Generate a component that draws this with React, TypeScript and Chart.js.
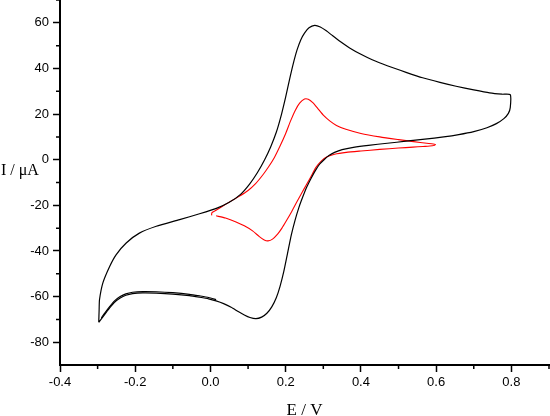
import React, { useEffect, useRef } from "react";
import { Chart, registerables } from "chart.js";

Chart.register(...registerables);

// Axis ticks
const X_MAJOR = [-0.4, -0.2, 0, 0.2, 0.4, 0.6, 0.8];
const X_MINOR = [-0.3, -0.1, 0.1, 0.3, 0.5, 0.7, 0.9];
const Y_MAJOR = [-80, -60, -40, -20, 0, 20, 40, 60];
const Y_MINOR = [-70, -50, -30, -10, 10, 30, 50, 70];
const X_TITLE = "E / V";
const Y_TITLE = "I / \u03bcA";

// Black CV (E in V, I in µA), traced in scan order
const BLACK_SCAN: [number, number][] = [
  [-0.297, -71.3], [-0.296, -66], [-0.295, -61.4], [-0.286, -54], [-0.268, -46.8],
  [-0.251, -41.7], [-0.224, -36.5], [-0.189, -32.2], [-0.144, -29.2], [-0.082, -26.3],
  [-0.029, -23.7], [0.019, -21.1], [0.05, -18.7], [0.08, -15.2], [0.104, -10.7],
  [0.125, -5.6], [0.144, 0], [0.16, 5.6], [0.175, 12], [0.189, 20], [0.2, 27.5],
  [0.21, 35], [0.22, 42], [0.23, 48], [0.24, 52.5], [0.25, 55.5], [0.262, 57.8],
  [0.277, 58.9], [0.292, 58.2], [0.308, 56.5], [0.325, 54.3], [0.345, 51.8], [0.37, 49],
  [0.4, 46.2], [0.43, 43.8], [0.47, 41.2], [0.52, 38.3], [0.564, 35.9], [0.61, 33.9],
  [0.653, 32.2], [0.7, 30.6], [0.742, 29.3], [0.775, 28.7], [0.797, 28.5],
  [0.797, 22.8], [0.792, 20.3], [0.78, 18], [0.76, 15.8], [0.735, 14], [0.7, 12.3],
  [0.66, 11], [0.62, 10], [0.57, 9], [0.52, 8.1], [0.47, 7.2], [0.42, 6.3], [0.38, 5.4],
  [0.35, 4.4], [0.33, 3.2], [0.315, 1.8], [0.302, 0], [0.29, -2], [0.278, -5],
  [0.268, -8], [0.256, -12], [0.245, -16.5], [0.235, -21], [0.225, -26.5], [0.215, -33],
  [0.205, -41], [0.195, -49], [0.185, -55.5], [0.175, -60.5], [0.163, -64.5],
  [0.15, -67.3], [0.136, -69], [0.121, -69.7], [0.105, -69.2], [0.09, -68.1],
  [0.075, -66.7], [0.055, -64.7], [0.035, -63.1], [0.015, -61.9], [-0.005, -61],
  [-0.029, -60.3], [-0.056, -59.6], [-0.1, -58.9], [-0.144, -58.5], [-0.18, -58.4],
  [-0.207, -58.7], [-0.225, -59.4], [-0.24, -60.6], [-0.255, -62.5], [-0.268, -65],
  [-0.28, -67.6], [-0.29, -69.8], [-0.297, -71.3],
];

// Second black cycle, visible as a thickened cathodic base line
const BLACK_CYCLE2: [number, number][] = [
  [-0.29, -69.3], [-0.28, -67], [-0.268, -64.4], [-0.255, -61.9], [-0.24, -60],
  [-0.225, -58.8], [-0.207, -58.1], [-0.18, -57.8], [-0.144, -57.9], [-0.1, -58.3],
  [-0.056, -59], [-0.029, -59.7], [-0.005, -60.4], [0.015, -61.4],
];

// Red CV (E in V, I in µA)
const RED_SCAN: [number, number][] = [
  [0.003, -24.4], [0.004, -23.2], [0.015, -22.2], [0.03, -20.6], [0.05, -18.6],
  [0.075, -16.2], [0.1, -13.5], [0.12, -10.5], [0.14, -6.5], [0.155, -3], [0.17, 1],
  [0.185, 6], [0.2, 11.5], [0.213, 17], [0.225, 21.5], [0.237, 24.8], [0.25, 26.6],
  [0.26, 26.5], [0.272, 25], [0.285, 22.5], [0.3, 19.5], [0.317, 17], [0.335, 15],
  [0.36, 13.3], [0.4, 11.5], [0.45, 10], [0.5, 8.8], [0.54, 7.9], [0.575, 7.2],
  [0.592, 6.9], [0.598, 6.6], [0.59, 6.1], [0.565, 5.8], [0.538, 5.5], [0.5, 5.1],
  [0.45, 4.5], [0.4, 3.8], [0.361, 3.2], [0.33, 2.4], [0.31, 1.3], [0.295, -0.5],
  [0.28, -3.5], [0.267, -7.5], [0.255, -11], [0.242, -14.8], [0.228, -19], [0.215, -23],
  [0.201, -27], [0.19, -30], [0.179, -32.5], [0.165, -34.8], [0.153, -35.6],
  [0.143, -35.2], [0.13, -33.7], [0.112, -31.2], [0.09, -29], [0.068, -27.3],
  [0.04, -25.6], [0.015, -24.6],
];

const toXY = (arr: [number, number][]) => arr.map(([x, y]) => ({ x, y }));

const decorPlugin = {
  id: "decor",
  afterDraw(chart: any) {
    const { ctx, chartArea, scales } = chart;
    const x = scales.x;
    const y = scales.y;
    ctx.save();
    ctx.strokeStyle = "#000";
    ctx.lineWidth = 1.5;
    ctx.beginPath();
    X_MINOR.forEach((v) => {
      const px = x.getPixelForValue(v);
      ctx.moveTo(px, chartArea.bottom);
      ctx.lineTo(px, chartArea.bottom + 4);
    });
    Y_MINOR.forEach((v) => {
      const py = y.getPixelForValue(v);
      ctx.moveTo(chartArea.left, py);
      ctx.lineTo(chartArea.left - 4, py);
    });
    ctx.stroke();
    ctx.fillStyle = "#000";
    ctx.textBaseline = "alphabetic";
    ctx.font = '17px "Liberation Serif", "Times New Roman", serif';
    ctx.textAlign = "center";
    ctx.fillText(X_TITLE, (chartArea.left + chartArea.right) / 2, 415);
    ctx.font = '16px "Liberation Serif", "Times New Roman", serif';
    ctx.textAlign = "left";
    ctx.fillText(Y_TITLE, 1, 175);
    ctx.restore();
  },
};

export default function App() {
  const canvasRef = useRef<HTMLCanvasElement | null>(null);

  useEffect(() => {
    document.body.style.margin = "0";
    const canvas = canvasRef.current;
    if (!canvas) return;
    const tickFont = { family: '"Liberation Sans", Arial, sans-serif', size: 13 };
    const line = (data: [number, number][], color: string, width: number) => ({
      data: toXY(data),
      borderColor: color,
      borderWidth: width,
      showLine: true,
      pointRadius: 0,
      tension: 0.2,
    });
    const chart = new Chart(canvas, {
      type: "scatter",
      data: {
        datasets: [
          line(BLACK_SCAN, "#000", 1.2),
          line(BLACK_CYCLE2, "#000", 1.2),
          line(RED_SCAN, "#ff0000", 1.1),
        ],
      },
      options: {
        animation: false,
        responsive: false,
        devicePixelRatio: 1,
        layout: { padding: { left: 0, right: 1, top: 0, bottom: 0 } },
        plugins: { legend: { display: false }, tooltip: { enabled: false } },
        scales: {
          x: {
            type: "linear",
            min: -0.4,
            max: 0.9,
            afterBuildTicks: (s: any) => {
              s.ticks = X_MAJOR.map((value) => ({ value }));
            },
            afterFit: (s: any) => {
              s.height = 51;
              s.paddingLeft = 0;
              s.paddingRight = 0;
            },
            ticks: {
              callback: (v: any) => Number(v).toFixed(1),
              font: tickFont,
              color: "#000",
              padding: 3,
              maxRotation: 0,
              autoSkip: false,
            },
            grid: {
              drawOnChartArea: false,
              drawTicks: true,
              tickLength: 7,
              tickWidth: 1.5,
              tickColor: "#000",
            },
            border: { display: true, color: "#000", width: 2 },
          },
          y: {
            type: "linear",
            min: -90,
            max: 70,
            afterBuildTicks: (s: any) => {
              s.ticks = Y_MAJOR.map((value) => ({ value }));
            },
            afterFit: (s: any) => {
              s.width = 60;
              s.paddingTop = 0;
              s.paddingBottom = 0;
            },
            ticks: {
              callback: (v: any) => String(v),
              font: tickFont,
              color: "#000",
              padding: 4,
              autoSkip: false,
            },
            grid: {
              drawOnChartArea: false,
              drawTicks: true,
              tickLength: 7,
              tickWidth: 1.5,
              tickColor: "#000",
            },
            border: { display: true, color: "#000", width: 2 },
          },
        },
      },
      plugins: [decorPlugin],
    } as any);
    return () => chart.destroy();
  }, []);

  return (
    <div style={{ width: 550, height: 416 }}>
      <canvas ref={canvasRef} width={550} height={416} />
    </div>
  );
}
